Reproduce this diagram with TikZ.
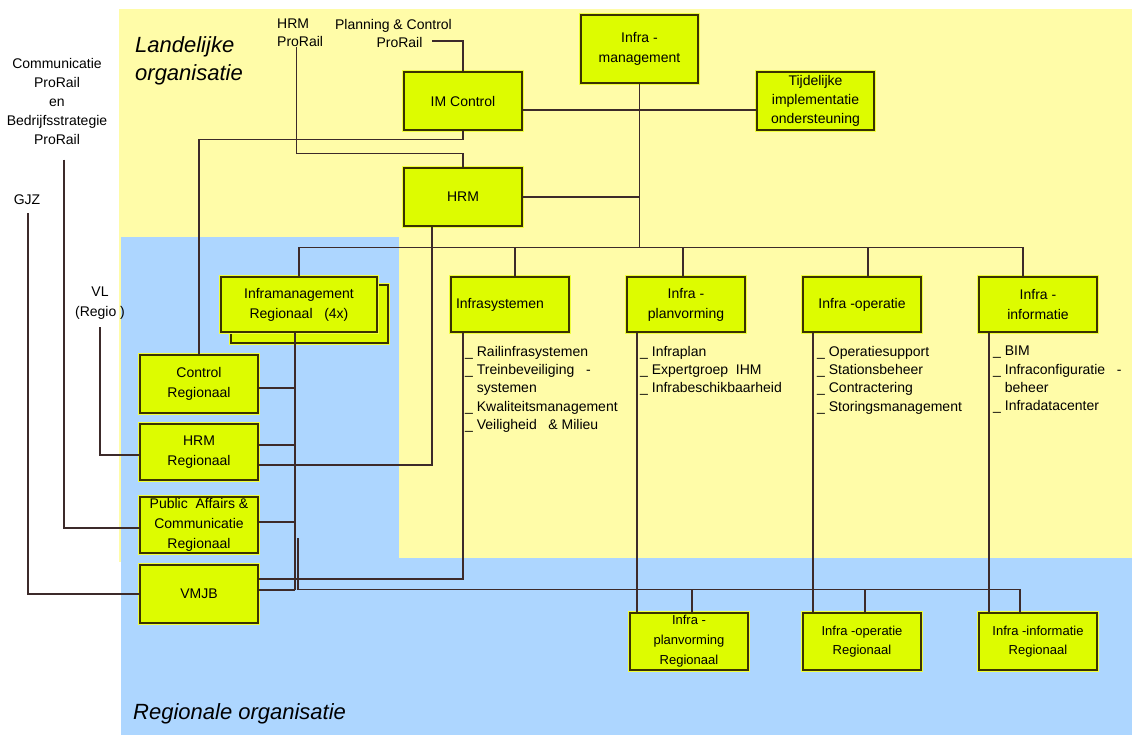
\documentclass[tikz,border=0pt]{standalone}
\usepackage{fontspec}
\setmainfont{Liberation Sans}
\usetikzlibrary{calc}
\definecolor{ybg}{HTML}{FFFCA8}
\definecolor{bbg}{HTML}{ADD6FF}
\definecolor{bfill}{HTML}{DDFC00}
\definecolor{bline}{HTML}{3A3300}
\definecolor{halo}{HTML}{F0FF3C}
\definecolor{lc}{HTML}{3C2A2A}
\begin{document}
\begin{tikzpicture}[x=1pt,y=-1pt,
 orgbox/.style={draw=bline, fill=bfill, line width=1.1pt, preaction={draw=halo, line width=3.4pt}, inner sep=0pt, align=center, font=\fontsize{14}{20}\selectfont, minimum width=118pt},
 smallbox/.style={orgbox, font=\fontsize{13}{19}\selectfont},
 conn/.style={draw=lc, line width=1.2pt},
 listtxt/.style={anchor=north west, inner sep=0pt, align=left, font=\fontsize{14}{18.3}\selectfont},
 ext/.style={inner sep=0pt, align=center, font=\fontsize{14}{19}\selectfont},
 region/.style={inner sep=0pt, align=left, font=\fontsize{22}{28}\selectfont\itshape}
]
\useasboundingbox (0,0) rectangle (1132,735);
% backgrounds
\fill[ybg] (119,9) rectangle (1132,562);
\fill[bbg] (121,237) rectangle (399,735);
\fill[bbg] (121,558) rectangle (1132,735);

% region labels
\node[region, anchor=north west] (lo) at (135,36) {Landelijke\\organisatie};
\node[region, anchor=west] (ro) at (133,714) {Regionale organisatie};

% national boxes
\node[orgbox, minimum width=117pt, minimum height=68pt] (im) at (639.5,49) {Infra -\\management};
\node[orgbox, minimum height=58pt] (imc) at (463,101) {IM Control};
\node[orgbox, minimum width=117pt, minimum height=58pt, font=\fontsize{14}{19}\selectfont] (tij) at (815.5,101) {Tijdelijke\\implementatie\\ondersteuning};
\node[orgbox, minimum height=58pt] (hrm) at (463,197) {HRM};

% departments
\node[orgbox, minimum height=55pt, text width=108pt, align=left] (isys) at (510,304.5) {Infrasystemen};
\node[orgbox, minimum height=55pt] (ipv) at (686,304.5) {Infra -\\planvorming};
\node[orgbox, minimum height=55pt] (iop) at (862,304.5) {Infra -operatie};
\node[orgbox, minimum height=55pt] (iinf) at (1038,304.5) {Infra -\\informatie};

% lists
\node[listtxt] (l1) at (465,346) {\_ Railinfrasystemen\\\_ Treinbeveiliging~~~-\\\phantom{\_ }systemen\\\_ Kwaliteitsmanagement\\\_ Veiligheid~~~\& Milieu};
\node[listtxt] (l2) at (640,346) {\_ Infraplan\\\_ Expertgroep~~IHM\\\_ Infrabeschikbaarheid};
\node[listtxt] (l3) at (817,346) {\_ Operatiesupport\\\_ Stationsbeheer\\\_ Contractering\\\_ Storingsmanagement};
\node[listtxt] (l4) at (993,346) {\_ BIM\\\_ Infraconfiguratie~~~-\\\phantom{\_ }beheer\\\_ Infradatacenter};

% regional boxes
\node[orgbox, minimum width=157pt, minimum height=58pt] (imrs) at (309.5,314) {};
\node[orgbox, minimum width=156pt, minimum height=55pt] (imr) at (299,304.5) {Inframanagement\\Regionaal~~~(4x)};
\node[orgbox, minimum height=58pt] (cr) at (199,384) {Control\\Regionaal};
\node[orgbox, minimum height=56pt] (hrmr) at (199,452) {HRM\\Regionaal};
\node[orgbox, minimum height=56pt] (pac) at (199,525) {Public~~Affairs~\&\\Communicatie\\Regionaal};
\node[orgbox, minimum height=58pt] (vmjb) at (199,594) {VMJB};

\node[smallbox, minimum height=57pt, font=\fontsize{13}{20}\selectfont] (ipvr) at (689,641.5) {Infra -\\planvorming\\Regionaal};
\node[smallbox, minimum height=57pt] (iopr) at (862,641.5) {Infra -operatie\\Regionaal};
\node[smallbox, minimum height=57pt] (iinfr) at (1038,641.5) {Infra -informatie\\Regionaal};

% external texts
\node[ext, anchor=north] (cpe) at (57,58) {Communicatie\\ProRail\\en\\Bedrijfsstrategie\\ProRail};
\node[ext] (gjz) at (27,200) {GJZ};
\node[ext, font=\fontsize{14}{20}\selectfont] (vl) at (100,303) {VL\\(Regio )};
\node[ext, anchor=north west, align=left, font=\fontsize{14}{18}\selectfont] (hrmp) at (277,19) {HRM\\ProRail};
\node[ext, anchor=north, font=\fontsize{14}{18}\selectfont] (pc) at (393.5,19) {Planning \& Control\\\hspace*{12pt}ProRail};

% helper coordinates
\coordinate (pcend) at (432,41);
\coordinate (lb) at (298,538);
\coordinate (vx) at ([xshift=-4pt]imr.south);
\coordinate (busL) at ($(imr.north)+(0,-29)$);

% national connectors
\draw[conn] (imc.south) -- ++(0,9) -| (cr.north);
\coordinate (hp) at ([xshift=-4pt]hrmp.south);
\draw[conn] (hp) |- ($(hrm.north)+(0,-14)$) -- (hrm.north);
\draw[conn] (pcend) -| (imc.north);
\coordinate (t1) at ([yshift=-9pt]imc.east);
\coordinate (t2) at ([yshift=-9pt]tij.west);
\draw[conn] (t1) -- (t2);
\draw[conn] (im.south) -- (im.south |- busL);
\draw[conn] (hrm.east) -- (hrm.east -| im.south);

% top bus
\coordinate (d4) at ([xshift=-15pt]iinf.north);
\draw[conn] (imr.north) -- (busL) -| (d4);
\coordinate (d1) at ([xshift=5pt]isys.north);
\draw[conn] (d1) -- (d1 |- busL);
\coordinate (d2) at ([xshift=-3pt]ipv.north);
\draw[conn] (d2) -- (d2 |- busL);
\coordinate (d3) at ([xshift=6pt]iop.north);
\draw[conn] (d3) -- (d3 |- busL);

% HRM to HRM Regionaal
\coordinate (h1) at ([xshift=-31pt]hrm.south);
\coordinate (h2) at ([yshift=-13pt]hrmr.east);
\draw[conn] (h1) |- (h2);

% department verticals
\coordinate (s1) at ([xshift=-47pt]isys.south);
\coordinate (s2) at ([yshift=15pt]vmjb.east);
\draw[conn] (s1) |- (s2);
\coordinate (p1) at ([xshift=-49pt]ipv.south);
\draw[conn] (p1) -- (p1 |- ipvr.north);
\coordinate (o1) at ([xshift=-49pt]iop.south);
\draw[conn] (o1) -- (o1 |- iopr.north);
\coordinate (f1) at ([xshift=-49pt]iinf.south);
\draw[conn] (f1) -- (f1 |- iinfr.north);

% regional spine
\coordinate (vj) at ([yshift=4pt]vmjb.east);
\draw[conn] (vx) -- (vx |- vj);
\coordinate (c1) at ([yshift=-4pt]cr.east);
\coordinate (c2) at ([yshift=7pt]hrmr.east);
\coordinate (c3) at ([yshift=3pt]pac.east);
\draw[conn] (c1) -- (c1 -| vx);
\draw[conn] (c2) -- (c2 -| vx);
\draw[conn] (c3) -- (c3 -| vx);
\draw[conn] (vj) -- (vj -| vx);

% lower bus
\coordinate (r3) at ([xshift=-18pt]iinfr.north);
\draw[conn] (lb) |- ($(r3)+(0,-23)$) -- (r3);
\coordinate (r1) at ([xshift=3pt]ipvr.north);
\draw[conn] (r1) -- ++(0,-23);
\coordinate (r2) at ([xshift=3pt]iopr.north);
\draw[conn] (r2) -- ++(0,-23);

% external connectors
\coordinate (e1) at ([xshift=7pt,yshift=-15pt]cpe.south);
\coordinate (e2) at ([yshift=-3pt]pac.west);
\draw[conn] (e1) |- (e2);
\coordinate (g1) at ([xshift=1pt,yshift=-8pt]gjz.south);
\draw[conn] (g1) |- (vmjb.west);
\coordinate (v1) at ([yshift=-8pt]vl.south);
\coordinate (v2) at ([yshift=-3pt]hrmr.west);
\draw[conn] (v1) |- (v2);
\end{tikzpicture}
\end{document}
